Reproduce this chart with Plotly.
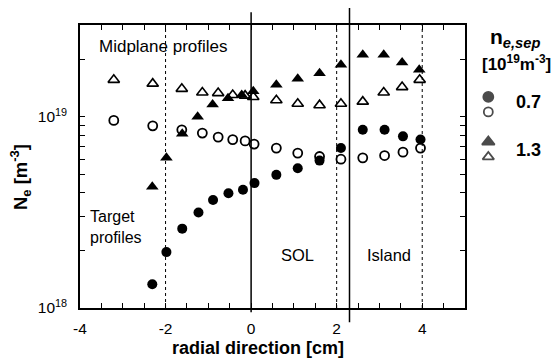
import numpy as np
import plotly.graph_objects as go

# ---------------- data ----------------
# n_e,sep = 0.7 : target profile (filled circles)
x_t07 = [-2.31, -1.98, -1.61, -1.23, -0.89, -0.53, -0.19, 0.08, 0.59, 1.09, 1.60, 2.10, 2.61, 3.12, 3.55, 3.96]
y_t07 = [1.33e18, 1.96e18, 2.6e18, 3.16e18, 3.67e18, 3.98e18, 4.15e18, 4.5e18, 4.97e18, 5.38e18,
         5.9e18, 6.86e18, 8.55e18, 8.55e18, 7.9e18, 7.6e18]
# n_e,sep = 0.7 : midplane profile (open circles)
x_m07 = [-3.21, -2.30, -1.62, -1.14, -0.77, -0.43, -0.14, 0.07, 0.59, 1.09, 1.60, 2.10, 2.61, 3.12, 3.55, 3.96]
y_m07 = [9.57e18, 8.97e18, 8.55e18, 8.22e18, 7.83e18, 7.6e18, 7.48e18, 7.2e18, 6.86e18, 6.46e18,
         6.2e18, 6.0e18, 6.1e18, 6.27e18, 6.53e18, 6.86e18]
# n_e,sep = 1.3 : target profile (filled triangles)
x_t13 = [-2.31, -1.98, -1.61, -1.25, -0.90, -0.54, -0.22, 0.05, 0.59, 1.09, 1.60, 2.10, 2.61, 3.10, 3.53, 3.93]
y_t13 = [4.3e18, 6.1e18, 8.15e18, 1.0e19, 1.16e19, 1.25e19, 1.30e19, 1.36e19, 1.47e19, 1.58e19,
         1.69e19, 1.87e19, 2.11e19, 2.11e19, 1.92e19, 1.76e19]
# n_e,sep = 1.3 : midplane profile (open triangles)
x_m13 = [-3.21, -2.30, -1.62, -1.14, -0.77, -0.43, -0.14, 0.05, 0.59, 1.09, 1.60, 2.10, 2.61, 3.10, 3.53, 3.94]
y_m13 = [1.56e19, 1.49e19, 1.40e19, 1.34e19, 1.33e19, 1.30e19, 1.29e19, 1.27e19, 1.22e19, 1.17e19,
         1.15e19, 1.17e19, 1.20e19, 1.34e19, 1.43e19, 1.56e19]

x_tick_vals = [-4, -3.5, -3, -2.5, -2, -1.5, -1, -0.5, 0, 0.5, 1, 1.5, 2, 2.5, 3, 3.5, 4, 4.5]
x_tick_text = ["-4", "", "", "", "-2", "", "", "", "0", "", "", "", "2", "", "", "", "4", ""]
y_tick_vals = [1e18, 2e18, 3e18, 4e18, 5e18, 6e18, 7e18, 8e18, 9e18, 1e19, 2e19, 3e19]
y_tick_text = ["10<sup>18</sup>", "", "", "", "", "", "", "", "", "10<sup>19</sup>", "", ""]

legend_title = "<b>n<sub><i>e,sep</i></sub></b>"
legend_unit = "<b>[10<sup>19</sup>m<sup>-3</sup>]</b>"
legend_labels = ["0.7", "1.3"]

solid_lines_x = [0, 2.3]          # separatrix / island boundary
dotted_lines_x = [-2, 2, 4]
dotted_line_y = 1e19

FONT = "Liberation Sans, Arial, Helvetica, sans-serif"
K = "black"

fig = go.Figure()

fig.add_trace(go.Scatter(x=x_t07, y=y_t07, mode="markers",
                         marker=dict(symbol="circle", size=10, color=K)))
fig.add_trace(go.Scatter(x=x_m07, y=y_m07, mode="markers",
                         marker=dict(symbol="circle-open", size=9, color=K, line=dict(width=1.8))))
fig.add_trace(go.Scatter(x=x_t13, y=y_t13, mode="markers",
                         marker=dict(symbol="triangle-up", size=11, color=K)))
fig.add_trace(go.Scatter(x=x_m13, y=y_m13, mode="markers",
                         marker=dict(symbol="triangle-up-open", size=10, color=K, line=dict(width=1.6))))

# legend markers on a hidden helper axis
fig.add_trace(go.Scatter(x=[0.2, 0.2, 0.2, 0.2], y=[0.746, 0.693, 0.587, 0.534], mode="markers",
                         xaxis="x2", yaxis="y2",
                         marker=dict(symbol=["circle", "circle-open", "triangle-up", "triangle-up-open"],
                                     size=[10, 9, 11, 10], color=K, line=dict(width=1.8, color=K))))

shapes = []
for xv in solid_lines_x:
    top = 1.045 if xv == 0 else 1.06
    bot = -0.015 if xv == 0 else -0.05
    shapes.append(dict(type="line", xref="x", yref="paper", x0=xv, x1=xv, y0=bot, y1=top,
                       line=dict(color=K, width=1.5)))
for xv in dotted_lines_x:
    shapes.append(dict(type="line", xref="x", yref="paper", x0=xv, x1=xv, y0=0, y1=1,
                       line=dict(color=K, width=1, dash="dot")))
shapes.append(dict(type="line", xref="x domain", yref="y", x0=0, x1=1,
                   y0=np.log10(dotted_line_y), y1=np.log10(dotted_line_y),
                   line=dict(color=K, width=1, dash="dot")))

# annotation pointer lines (data coordinates, log10 for y)
label_mid = (-2.59, np.log10(1.95e19))
label_tgt = (-2.37, np.log10(2.95e18))
for (x0, y0), (x1, y1) in [
    (label_mid, (x_m13[2] - 0.07, np.log10(y_m13[2]) + 0.025)),
    (label_mid, (x_m07[1] + 0.06, np.log10(y_m07[1]) + 0.045)),
    (label_tgt, (x_t13[0] - 0.02, np.log10(y_t13[0]) - 0.03)),
    (label_tgt, (-1.29, np.log10(3.55e18))),
]:
    shapes.append(dict(type="line", xref="x", yref="y", x0=x0, y0=y0, x1=x1, y1=y1,
                       line=dict(color=K, width=1.4)))

C = dict(xanchor="center", yanchor="middle", showarrow=False)
annotations = [
    dict(text="Midplane profiles", x=-2.05, y=np.log10(2.32e19), xref="x", yref="y",
         font=dict(size=17), **C),
    dict(text="Target<br>profiles", x=-3.81, y=np.log10(2.64e18), xref="x", yref="y",
         xanchor="left", yanchor="middle", align="left", showarrow=False, font=dict(size=16)),
    dict(text="SOL", x=1.08, y=np.log10(1.9e18), xref="x", yref="y", font=dict(size=16.5), **C),
    dict(text="Island", x=3.22, y=np.log10(1.9e18), xref="x", yref="y", font=dict(size=16.5), **C),
    dict(text="<b>radial direction [cm]</b>", x=0.384, y=-0.141, xref="paper", yref="paper",
         font=dict(size=18), **C),
    dict(text="<b>N<sub>e</sub> [m<sup>-3</sup>]</b>", x=-0.127, y=0.463, xref="paper", yref="paper",
         textangle=-90, font=dict(size=18.5), **C),
    dict(text=legend_title, x=0.9375, y=0.955, xref="paper", yref="paper", font=dict(size=21), **C),
    dict(text=legend_unit, x=0.94, y=0.866, xref="paper", yref="paper", font=dict(size=17), **C),
    dict(text="<b>" + legend_labels[0] + "</b>", x=0.966, y=0.728, xref="paper", yref="paper",
         font=dict(size=18), **C),
    dict(text="<b>" + legend_labels[1] + "</b>", x=0.966, y=0.558, xref="paper", yref="paper",
         font=dict(size=18), **C),
]

axis_common = dict(showgrid=False, zeroline=False, showline=True, linecolor=K, linewidth=1.5,
                   mirror="allticks", ticks="inside", ticklen=5, tickwidth=1.2, tickcolor=K,
                   tickfont=dict(size=15.5, color=K))

fig.update_layout(
    width=554, height=360,
    margin=dict(l=80, r=10, t=25, b=52),
    paper_bgcolor="white", plot_bgcolor="white",
    showlegend=False,
    font=dict(family=FONT, color=K),
    xaxis=dict(domain=[0, 385 / 464], range=[-4, 5], tickmode="array",
               tickvals=x_tick_vals, ticktext=x_tick_text, ticklabelstandoff=6, **axis_common),
    yaxis=dict(type="log", range=[18, 19.48], tickmode="array",
               tickvals=y_tick_vals, ticktext=y_tick_text, ticklabelstandoff=8, **axis_common),
    xaxis2=dict(domain=[0.85, 1.0], range=[0, 1], visible=False, anchor="y2"),
    yaxis2=dict(domain=[0, 1], range=[0, 1], visible=False, anchor="x2"),
    shapes=shapes,
    annotations=annotations,
)

fig.write_html("out.html", config={"displayModeBar": False},
               post_script="document.body.style.margin='0';document.body.style.overflow='hidden';")
